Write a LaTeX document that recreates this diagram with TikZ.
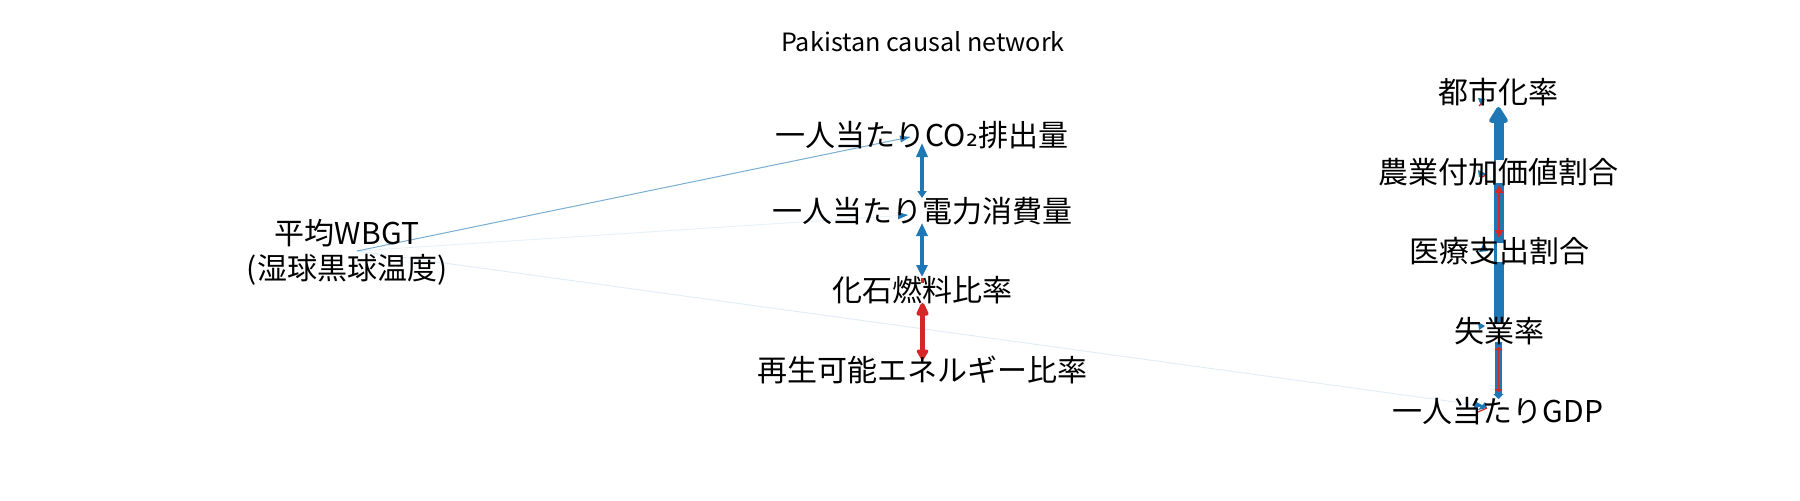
\documentclass[tikz,border=0pt]{standalone}
\usepackage{fontspec}
\setmainfont{Noto Sans CJK JP}
\newfontfamily\djv{DejaVu Sans}
\usetikzlibrary{arrows.meta,calc}
\definecolor{tblue}{HTML}{1F77B4}
\definecolor{tred}{HTML}{D62728}
\begin{document}
\begin{tikzpicture}[x=0.5pt,y=-0.5pt,
  lab/.style={font=\fontsize{15pt}{18pt}\selectfont, anchor=base, inner sep=0pt},
  ttl/.style={font=\fontsize{12.6pt}{14pt}\selectfont, anchor=base, inner sep=0pt},
  thin edge/.style={tblue, line width=0.5pt},
  small head/.style={-{Triangle[length=5pt,width=3.5pt]}},
  vblue/.style={tblue, line width=1.6pt},
  loopmark/.style={tblue},
  rloopmark/.style={tred, line width=0.6pt}]
\useasboundingbox (0,0) rectangle (1800,500);

% coordinates for connector ends
\coordinate (src) at (357,251);
\coordinate (tCO) at (910,137);
\coordinate (tDE) at (908,215);
\coordinate (tGD) at (1484,406);

% WBGT edges
\draw[thin edge, draw opacity=0.6] (src) -- (tCO);
\draw[thin edge, draw opacity=0.1] (src) -- (tDE);
\draw[thin edge, draw opacity=0.13] (src) -- (tGD);
\draw[tblue, small head, opacity=0.8] ($(tCO)!2pt!(src)$) -- (tCO);
\draw[tblue, small head] ($(tDE)!2pt!(src)$) -- (tDE);
\draw[tblue, small head] ($(tGD)!2pt!(src)$) -- (tGD);

% central column
\coordinate (a1) at (922,143); \coordinate (a2) at (922,198);
\coordinate (b1) at (922,223); \coordinate (b2) at (922,277);
\coordinate (c1) at (922.5,303); \coordinate (c2) at (922.5,360);
\draw[vblue, {Triangle[length=7pt,width=5.5pt]}-{Triangle[length=3.5pt,width=4.5pt]}] (a1) -- (a2);
\draw[vblue, {Triangle[length=6.5pt,width=5.5pt]}-{Triangle[length=6pt,width=5.5pt]}] (b1) -- (b2);
\draw[tred, line width=2.5pt, {Triangle[length=8pt,width=6.5pt,round]}-{Triangle[length=6pt,width=6.5pt,round]}] (c1) -- (c2);
\draw[tred, line width=1.5pt] (922,278) -- (922,283);

% right column
\coordinate (d1) at (1498.5,322); \coordinate (d2) at (1498.5,107);
\draw[tblue, line width=5pt, -{Triangle[length=9pt,width=10.5pt,round]}] (d1) -- (d2);
\coordinate (e1) at (1498.5,342); \coordinate (e2) at (1498.5,399);
\draw[tblue, line width=3.5pt, -{Triangle[length=2.5pt,width=5pt]}] (e1) -- (e2);
\coordinate (f1) at (1498.5,347); \coordinate (f2) at (1498.5,392);
\draw[tred, line width=0.7pt, {Triangle[length=1.5pt,width=4pt]}-{Triangle[length=1.5pt,width=4pt]}] (f1) -- (f2);
\coordinate (g1) at (1499,185); \coordinate (g2) at (1499,238);
\draw[tred, line width=0.7pt, {Triangle[length=4pt,width=4pt]}-{Triangle[length=4pt,width=4pt]}] (g1) -- (g2);

% white patches over the thick edge
\fill[white] (1496,160) rectangle (1505,183);
\fill[white] (1497,243) rectangle (1505,262);

% small self-loop marks
\fill[loopmark] (1478,98) -- (1485,99) -- (1481,106) -- cycle;
\draw[rloopmark] (1479,106) -- (1484,101);
\fill[loopmark] (1478,170) -- (1487,174) -- (1479,177) -- cycle;
\draw[rloopmark] (1480,178) -- (1486,175);
\fill[loopmark] (1479,252) -- (1484,243) -- (1488,251) -- cycle;
\fill[loopmark] (1478,322) -- (1485,326) -- (1479,330) -- cycle;
\fill[loopmark] (1478,410) -- (1485,402) -- (1487,408) -- cycle;
\draw[rloopmark] (1478,412) -- (1487,408);

% labels
\node[ttl] (title) at (923,51) {Pakistan causal network};
\node[lab] (wbgt) at (347,244) {平均WBGT};
\node[lab] (wbgtb) at (347,279) {(湿球黒球温度)};
\node[lab] (co2) at (922,146) {一人当たりCO{\djv ₂}排出量};
\node[lab] (den) at (922,222) {一人当たり電力消費量};
\node[lab] (kaseki) at (922,301) {化石燃料比率};
\node[lab] (saisei) at (922,381) {再生可能エネルギー比率};
\node[lab] (toshi) at (1498,103) {都市化率};
\node[lab] (nogyo) at (1498,183) {農業付加価値割合};
\node[lab] (iryo) at (1499,262) {医療支出割合};
\node[lab] (shitsu) at (1499,342) {失業率};
\node[lab] (gdp) at (1498,422) {一人当たりGDP};
\end{tikzpicture}
\end{document}
